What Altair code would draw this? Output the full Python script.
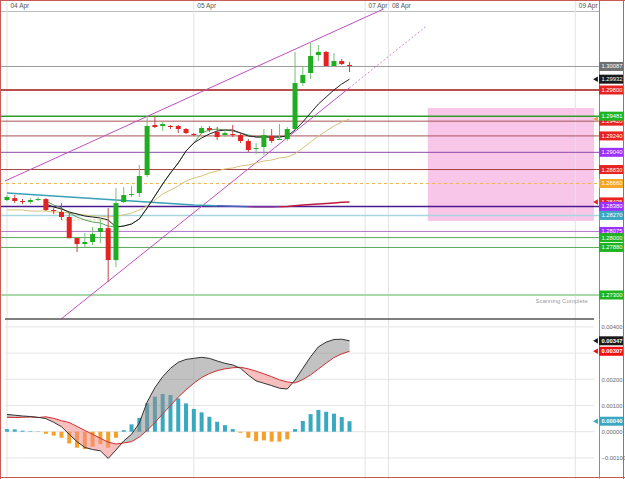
import altair as alt
import pandas as pd

# ---------------- data ----------------
OPEN = [1.28458, 1.28482, 1.28446, 1.28434, 1.28458, 1.28470, 1.28336, 1.28312, 1.28251, 1.27994,
        1.27921, 1.27946, 1.28068, 1.28116, 1.27726, 1.28434, 1.28519, 1.28543, 1.28763, 1.29373,
        1.29361, 1.29361, 1.29361, 1.29324, 1.29263, 1.29275, 1.29336, 1.29288, 1.29251, 1.29263,
        1.29251, 1.29178, 1.29080, 1.29105, 1.29239, 1.29190, 1.29202, 1.29324, 1.29885, 1.30007,
        1.30227, 1.30264, 1.30093, 1.30154, 1.30105]
HIGH = [1.28519, 1.28519, 1.28470, 1.28482, 1.28495, 1.28482, 1.28360, 1.28421, 1.28299, 1.27994,
        1.28055, 1.28129, 1.28226, 1.28360, 1.28604, 1.28617, 1.28629, 1.28885, 1.29483, 1.29483,
        1.29410, 1.29373, 1.29373, 1.29336, 1.29275, 1.29361, 1.29361, 1.29349, 1.29312, 1.29373,
        1.29275, 1.29202, 1.29153, 1.29324, 1.29324, 1.29385, 1.29349, 1.30264, 1.30081, 1.30373,
        1.30349, 1.30276, 1.30251, 1.30178, 1.30142]
LOW = [1.28446, 1.28421, 1.28409, 1.28409, 1.28446, 1.28324, 1.28287, 1.28214, 1.27990, 1.27824,
       1.27885, 1.27909, 1.27933, 1.27458, 1.27641, 1.28421, 1.28495, 1.28495, 1.28739, 1.29336,
       1.29300, 1.29324, 1.29275, 1.29263, 1.29239, 1.29263, 1.29288, 1.29190, 1.29227, 1.29227,
       1.29153, 1.29044, 1.29019, 1.29007, 1.29153, 1.29190, 1.29178, 1.29312, 1.29849, 1.29934,
       1.30154, 1.30093, 1.30093, 1.30105, 1.30020]
CLOSE = [1.28495, 1.28446, 1.28434, 1.28458, 1.28470, 1.28336, 1.28324, 1.28251, 1.27994, 1.27921,
         1.27946, 1.28043, 1.28116, 1.27726, 1.28421, 1.28519, 1.28531, 1.28751, 1.29361, 1.29349,
         1.29385, 1.29349, 1.29324, 1.29275, 1.29251, 1.29336, 1.29312, 1.29227, 1.29275, 1.29251,
         1.29178, 1.29068, 1.29092, 1.29251, 1.29178, 1.29202, 1.29324, 1.29885, 1.29983, 1.30215,
         1.30264, 1.30093, 1.30154, 1.30117, 1.30093]

MA_FAST = [None] * 5 + [
    1.28410, 1.28373, 1.28349, 1.28312, 1.28288, 1.28263, 1.28251, 1.28239, 1.28215, 1.28129,
    1.28141, 1.28166, 1.28227, 1.28361, 1.28507, 1.28654, 1.28788, 1.28910, 1.29056, 1.29154,
    1.29215, 1.29263, 1.29300, 1.29312, 1.29312, 1.29276, 1.29239, 1.29227, 1.29227, 1.29227,
    1.29227, 1.29239, 1.29312, 1.29410, 1.29520, 1.29629, 1.29715, 1.29800, 1.29873, 1.29932]
MA_GREEN = [None] * 5 + [
    1.28446, 1.28398, 1.28361, 1.28300, 1.28251, 1.28215, 1.28190, 1.28178, 1.28141,
    1.28129, 1.28141, 1.28166, 1.28227, 1.28361, 1.28507, 1.28654, 1.28788, 1.28910, 1.29056, 1.29154,
    1.29276, 1.29312, 1.29324, 1.29312, 1.29300, 1.29276, 1.29251, 1.29227, 1.29227, 1.29227,
    1.29227, 1.29239] + [None] * 8
MA_TAN = [1.28337, 1.28337, 1.28337, 1.28324, 1.28324, 1.28324, 1.28312, 1.28312, 1.28300, 1.28288,
          1.28276, 1.28263, 1.28263, 1.28251, 1.28263, 1.28276, 1.28300, 1.28337, 1.28385, 1.28459,
          1.28532, 1.28580, 1.28629, 1.28690, 1.28727, 1.28751, 1.28788, 1.28812, 1.28837, 1.28849,
          1.28873, 1.28885, 1.28910, 1.28934, 1.28946, 1.28971, 1.28983, 1.29020, 1.29093, 1.29166,
          1.29239, 1.29300, 1.29361, 1.29410, 1.29446]
MA_LONG = [1.28544, 1.28538, 1.28532, 1.28526, 1.28520, 1.28514, 1.28507, 1.28501, 1.28495, 1.28489,
           1.28483, 1.28477, 1.28471, 1.28465, 1.28459, 1.28452, 1.28446, 1.28440, 1.28434, 1.28428,
           1.28422, 1.28416, 1.28410, 1.28404, 1.28398, 1.28395, 1.28392, 1.28389, 1.28385, 1.28382,
           1.28379, 1.28376, 1.28373, 1.28373, 1.28373, 1.28376, 1.28379, 1.28388, 1.28398, 1.28404,
           1.28410, 1.28416, 1.28422, 1.28430, 1.28435]

MACD = [0.00066, 0.00063, 0.00060, 0.00058, 0.00055, 0.00050, 0.00036, 0.00019, -0.00010, -0.00038,
        -0.00060, -0.00068, -0.00073, -0.00102, -0.00070, -0.00035, -0.00010, 0.00033, 0.00113, 0.00168,
        0.00210, 0.00242, 0.00265, 0.00276, 0.00280, 0.00284, 0.00280, 0.00270, 0.00261, 0.00255,
        0.00242, 0.00216, 0.00194, 0.00185, 0.00176, 0.00166, 0.00163, 0.00197, 0.00242, 0.00286,
        0.00324, 0.00342, 0.00352, 0.00353, 0.00347]
SIGNAL = [0.00055, 0.00054, 0.00055, 0.00056, 0.00054, 0.00057, 0.00051, 0.00042, 0.00035, 0.00020,
          0.00005, -0.00010, -0.00025, -0.00040, -0.00047, -0.00043, -0.00038, -0.00020, 0.00005, 0.00035,
          0.00068, 0.00100, 0.00132, 0.00160, 0.00185, 0.00207, 0.00222, 0.00233, 0.00240, 0.00244,
          0.00246, 0.00240, 0.00231, 0.00221, 0.00210, 0.00198, 0.00190, 0.00186, 0.00199, 0.00217,
          0.00239, 0.00262, 0.00283, 0.00297, 0.00307]
HIST = [0.00010, 0.00009, 0.00004, 0.00002, 0.00001, -0.00008, -0.00015, -0.00023, -0.00045, -0.00061,
        -0.00066, -0.00057, -0.00047, -0.00061, -0.00023, 0.00006, 0.00028, 0.00053, 0.00108, 0.00134,
        0.00144, 0.00140, 0.00127, 0.00108, 0.00087, 0.00074, 0.00057, 0.00038, 0.00025, 0.00010,
        -0.00004, -0.00023, -0.00036, -0.00033, -0.00038, -0.00038, -0.00029, 0.00010, 0.00041, 0.00067,
        0.00083, 0.00076, 0.00069, 0.00056, 0.00040]

LEVELS = [1.30087, 1.29800, 1.29481, 1.29420, 1.29240, 1.29040, 1.28830,
          1.28380, 1.28270, 1.28075, 1.28000, 1.27880, 1.27300]
DASHED_LEVEL = [1.28660]

TAGS_HIDDEN = [1.29420, 1.28435, 1.28075]
TAGS = [1.29481, 1.30087, 1.29932, 1.29800, 1.29240, 1.29040, 1.28830, 1.28660,
        1.28380, 1.28270, 1.28000, 1.27880, 1.27300]
ARROWS = [1.29446, 1.29932, 1.28435]
MACD_TAGS = [0.00347, 0.00307, 0.00040]
MACD_GRID = [-0.001, 0.0, 0.001, 0.002, 0.003, 0.004]
MACD_TICK_LABELS = [-0.001, 0.0, 0.001, 0.002, 0.004]   # 0.00300 sits under the value tags

DAY_POS = [0, 24, 46, 49, 73]
DAY_LABELS = ["04 Apr", "05 Apr", "07 Apr", "08 Apr", "09 Apr"]

ZONE_X = [54.05, 75.4]
ZONE_Y = [1.28202, 1.29580]
CH_UPPER_X, CH_UPPER_Y = [-0.25, 48.37], [1.28690, 1.30788]
CH_LOWER_X, CH_LOWER_Y = [6.95, 43.95], [1.27007, 1.29824]
CH_EXT_X, CH_EXT_Y = [43.95, 53.8], [1.29824, 1.30574]
TAN_DOT_X, TAN_DOT_Y = [7, 13], [1.28215]
NOTE = "Scanning Complete"
NOTE_X, NOTE_Y = 74.6, 1.27227

# ---------------- styles / geometry ----------------
FONT = "Liberation Sans"
FRAME = "#c95a55"
LEVEL_COLORS = ["#9a9a9a", "#a31515", "#2a9d2a", "#a85454", "#a85454", "#8d4aa8", "#a54040",
                "#4a1a90", "#a6d6e0", "#b478cc", "#5aa85a", "#5aa85a", "#a9d9a9"]
LEVEL_WIDTHS = [1, 1.5, 1.5, 1, 1, 1, 1, 1.6, 1.6, 1, 1, 1, 2]
TAG_HIDDEN_COLORS = ["#e8231f", "#e8231f", "#9b30ff"]
TAG_COLORS = ["#1fb31f", "#707070", "#1a1a1a", "#e8231f", "#e8231f", "#9b30ff", "#e8231f",
              "#f5a623", "#9b30ff", "#3aa8c1", "#1fb31f", "#1fb31f", "#1fb31f"]
ARROW_COLORS = ["#e0a040", "#1a1a1a", "#e8231f"]
MACD_TAG_COLORS = ["#1a1a1a", "#f01010", "#3aa8c1"]
LONG_SEGS = [(0, 27, "#3aa0b8"), (27, 31, "#4a60c0"), (31, 35, "#8a3aa0"), (35, 44, "#c01a3c")]
RECT_PATH = "M-1,-0.36L1,-0.36L1,0.36L-1,0.36Z"
TAG_FONT = 5.8

TOTAL_W, TOTAL_H = 625, 479
PLOT_W = 599          # price/indicator area, price column after it
SPLIT = 319           # border between price panel and MACD panel
XDOM = [-0.2526, 75.4]
PDOM = [1.270073, 1.308976]
MDOM = [-0.001767, 0.004302]
N = len(OPEN)
IDX = list(range(N))

day_expr = " : ".join(f"datum.value == {p} ? '{l}'" for p, l in zip(DAY_POS, DAY_LABELS)) + " : ''"

xaxis = alt.Axis(orient="top", offset=-11, values=DAY_POS, labelExpr=day_expr, grid=False,
                 ticks=False, domainColor="#bdbdbd", labelColor="#555555", labelFont=FONT,
                 labelFontSize=6.5, labelAlign="left", labelBaseline="bottom", labelOffset=3,
                 labelPadding=3, labelFlush=False, labelOverlap=False, title=None)
price_axis = alt.Axis(orient="right", offset=PLOT_W - TOTAL_W, labels=False, ticks=False, grid=False,
                      domainColor="#8c8c8c", title=None)
macd_axis = alt.Axis(orient="right", offset=PLOT_W - TOTAL_W, values=MACD_TICK_LABELS, format=".5f",
                     grid=False, ticks=False, labelFont=FONT, labelFontSize=5.8,
                     labelColor="#666666", labelPadding=2, labelAlign="left", domainColor="#8c8c8c",
                     labelFlush=False, labelOverlap=False, title=None)

xscale = alt.Scale(domain=XDOM, range=[0, PLOT_W], nice=False, zero=False)
pscale = alt.Scale(domain=PDOM, range=[SPLIT, 0], nice=False, zero=False)
mscale = alt.Scale(domain=MDOM, range=[TOTAL_H - 1, SPLIT], nice=False, zero=False)


def mx(f):
    return alt.X(f, type="quantitative", scale=xscale, axis=xaxis)


def my(f, axis=None):
    return alt.Y(f, type="quantitative", scale=pscale, axis=axis)


def ky(f, axis=None):
    return alt.Y(f, type="quantitative", scale=mscale, axis=axis)


# ---------------- tables ----------------
cdf = pd.DataFrame({"i": IDX, "o": OPEN, "h": HIGH, "l": LOW, "c": CLOSE})
up = [c >= o for o, c in zip(OPEN, CLOSE)]
cdf["body"] = ["#1fae1f" if u else "#e32222" for u in up]
cdf["wick"] = ["#74c274" if u else "#c04848" for u in up]

zone = pd.DataFrame({"x1": [ZONE_X[0]], "x2": [ZONE_X[1]], "y1": [ZONE_Y[0]], "y2": [ZONE_Y[1]]})
days = pd.DataFrame({"d": DAY_POS})
lv = pd.DataFrame({"p": LEVELS, "col": LEVEL_COLORS, "w": LEVEL_WIDTHS})
dl = pd.DataFrame({"p": DASHED_LEVEL})
ch = pd.DataFrame({"i": CH_UPPER_X + CH_LOWER_X, "p": CH_UPPER_Y + CH_LOWER_Y,
                   "g": ["u", "u", "l", "l"]})
chx = pd.DataFrame({"i": CH_EXT_X, "p": CH_EXT_Y})
tand = pd.DataFrame({"x1": [TAN_DOT_X[0]], "x2": [TAN_DOT_X[1]], "p": TAN_DOT_Y})
sep = pd.DataFrame({"x1": [XDOM[0]], "x2": [XDOM[1]], "p": [PDOM[0]]})
mgrid = pd.DataFrame({"v": MACD_GRID, "x1": XDOM[0], "x2": XDOM[1]})


def series(vals):
    return pd.DataFrame([(i, v) for i, v in zip(IDX, vals) if v is not None], columns=["i", "p"])


long_rows = []
for s, (a, b, col) in enumerate(LONG_SEGS):
    for i in range(a, b + 1):
        long_rows.append((i, MA_LONG[i], s, col))
longdf = pd.DataFrame(long_rows, columns=["i", "p", "seg", "col"])

th = pd.DataFrame({"p": TAGS_HIDDEN, "col": TAG_HIDDEN_COLORS, "t": [f"{v:.5f}" for v in TAGS_HIDDEN]})
tv = pd.DataFrame({"p": TAGS, "col": TAG_COLORS, "t": [f"{v:.5f}" for v in TAGS]})
ar = pd.DataFrame({"p": ARROWS, "col": ARROW_COLORS})
note = pd.DataFrame({"i": [NOTE_X], "p": [NOTE_Y], "t": [NOTE]})

hdf = pd.DataFrame({"i": IDX, "h": HIST})
hdf["col"] = ["#3aa8c1" if v >= 0 else "#f5a02a" for v in HIST]

rows = []
seg = 0
d = [m - s for m, s in zip(MACD, SIGNAL)]
cur = "above" if d[0] >= 0 else "below"
rows.append((0, MACD[0], SIGNAL[0], seg, cur))
for k in range(1, N):
    kk = "above" if d[k] >= 0 else "below"
    if kk != cur:
        t = d[k - 1] / (d[k - 1] - d[k])
        xm = k - 1 + t
        ym = MACD[k - 1] + t * (MACD[k] - MACD[k - 1])
        rows.append((xm, ym, ym, seg, cur))
        seg += 1
        cur = kk
        rows.append((xm, ym, ym, seg, cur))
    rows.append((k, MACD[k], SIGNAL[k], seg, cur))
fdf = pd.DataFrame(rows, columns=["i", "m", "s", "seg", "kind"])
ldf = pd.DataFrame({"i": IDX, "m": MACD, "s": SIGNAL})
mt = pd.DataFrame({"p": MACD_TAGS, "col": MACD_TAG_COLORS, "t": [f"{v:.5f}" for v in MACD_TAGS]})

# ---------------- layers ----------------
layers = [
    # price panel
    alt.Chart(zone).mark_rect(color="#f8c6e9").encode(x=mx("x1"), x2="x2", y=my("y1", price_axis), y2="y2"),
    alt.Chart(days).mark_rule(color="#e3e3e3", strokeWidth=1).encode(x=mx("d")),
    alt.Chart(lv).mark_rule().encode(x=alt.value(0), x2=alt.value(PLOT_W),
                                     y=my("p"), color=alt.Color("col:N", scale=None),
                                     strokeWidth=alt.StrokeWidth("w:Q", scale=None)),
    alt.Chart(dl).mark_rule(color="#f0b44a", strokeDash=[3, 3], strokeWidth=1).encode(
        x=alt.value(0), x2=alt.value(PLOT_W), y=my("p")),
    alt.Chart(tand).mark_rule(color="#dcc77a", strokeDash=[2, 2], strokeWidth=1).encode(
        x=mx("x1"), x2="x2", y=my("p")),
    alt.Chart(ch).mark_line(color="#c04fc0", strokeWidth=1).encode(x=mx("i"), y=my("p"), detail="g:N"),
    alt.Chart(chx).mark_line(color="#d08ad0", strokeWidth=1, strokeDash=[2, 2]).encode(x=mx("i"), y=my("p")),
    alt.Chart(series(MA_TAN)).mark_line(color="#d9c27a", strokeWidth=1).encode(x=mx("i"), y=my("p")),
    alt.Chart(longdf).mark_line(strokeWidth=1.5).encode(x=mx("i"), y=my("p"), detail="seg:N",
                                                        color=alt.Color("col:N", scale=None)),
    alt.Chart(series(MA_GREEN)).mark_line(color="#5c9e5c", strokeWidth=1).encode(x=mx("i"), y=my("p")),
    alt.Chart(series(MA_FAST)).mark_line(color="#222222", strokeWidth=1).encode(x=mx("i"), y=my("p")),
    alt.Chart(cdf).mark_rule(strokeWidth=1).encode(x=mx("i"), y=my("l"), y2="h",
                                                   color=alt.Color("wick:N", scale=None)),
    alt.Chart(cdf).mark_bar(size=5).encode(x=mx("i"), y=my("o"), y2="c",
                                           color=alt.Color("body:N", scale=None)),
    alt.Chart(note).mark_text(align="right", baseline="middle", font=FONT, fontSize=6,
                              color="#a0a0a0").encode(x=mx("i"), y=my("p"), text="t:N"),
    # MACD panel
    alt.Chart(mgrid).mark_rule(color="#e4e4e4", strokeWidth=1).encode(
        x=mx("x1"), x2="x2", y=ky("v", macd_axis)),
    alt.Chart(hdf).mark_bar(size=4).encode(x=mx("i"), y=ky("h"), y2=alt.datum(0),
                                           color=alt.Color("col:N", scale=None)),
    alt.Chart(fdf).mark_area(opacity=0.55).encode(
        x=mx("i"), y=ky("m"), y2="s", detail="seg:N",
        color=alt.Color("kind:N", scale=alt.Scale(domain=["above", "below"],
                                                  range=["#8f8f8f", "#f28b8b"]), legend=None)),
    alt.Chart(ldf).mark_line(color="#d12f2f", strokeWidth=1).encode(x=mx("i"), y=ky("s")),
    alt.Chart(ldf).mark_line(color="#333333", strokeWidth=1).encode(x=mx("i"), y=ky("m")),
    alt.Chart(sep).mark_rule(color="#555555", strokeWidth=1.5).encode(x=mx("x1"), x2="x2", y=my("p")),
    # price tags on the right
    alt.Chart(ar).mark_point(shape="triangle-left", size=30, filled=True, opacity=1).encode(
        x=alt.value(595.5), y=my("p"), color=alt.Color("col:N", scale=None)),
    alt.Chart(th).mark_point(shape=RECT_PATH, size=625, filled=True, opacity=1, strokeWidth=0).encode(
        x=alt.value(611.5), y=my("p"), color=alt.Color("col:N", scale=None)),
    alt.Chart(th).mark_text(align="left", baseline="middle", font=FONT, fontSize=TAG_FONT,
                            color="white").encode(x=alt.value(601.5), y=my("p"), text="t:N"),
    alt.Chart(tv).mark_point(shape=RECT_PATH, size=625, filled=True, opacity=1, strokeWidth=0).encode(
        x=alt.value(611.5), y=my("p"), color=alt.Color("col:N", scale=None)),
    alt.Chart(tv).mark_text(align="left", baseline="middle", font=FONT, fontSize=TAG_FONT,
                            color="white").encode(x=alt.value(601.5), y=my("p"), text="t:N"),
    alt.Chart(mt).mark_point(shape="triangle-left", size=30, filled=True, opacity=1).encode(
        x=alt.value(595.5), y=ky("p"), color=alt.Color("col:N", scale=None)),
    alt.Chart(mt).mark_point(shape=RECT_PATH, size=625, filled=True, opacity=1, strokeWidth=0).encode(
        x=alt.value(611.5), y=ky("p"), color=alt.Color("col:N", scale=None)),
    alt.Chart(mt).mark_text(align="left", baseline="middle", font=FONT, fontSize=TAG_FONT, color="white",
                            fontWeight="bold").encode(x=alt.value(601.5), y=ky("p"), text="t:N"),
    # outer frame
    alt.Chart(days).mark_rule(color=FRAME, strokeWidth=1).encode(
        x=alt.value(0), x2=alt.value(TOTAL_W), y=alt.value(0.5)),
    alt.Chart(days).mark_rule(color=FRAME, strokeWidth=1).encode(
        x=alt.value(0), x2=alt.value(TOTAL_W), y=alt.value(TOTAL_H - 1.5)),
    alt.Chart(days).mark_rule(color=FRAME, strokeWidth=1).encode(
        x=alt.value(0.5), y=alt.value(0), y2=alt.value(TOTAL_H)),
    alt.Chart(days).mark_rule(color=FRAME, strokeWidth=1).encode(
        x=alt.value(TOTAL_W - 1.5), y=alt.value(0), y2=alt.value(TOTAL_H)),
]

chart = alt.layer(*layers).resolve_scale(y="independent").properties(
    width=TOTAL_W, height=TOTAL_H, padding=0, background="white",
    autosize=alt.AutoSizeParams(type="none")
).configure_view(strokeWidth=0).configure(font=FONT)

chart.save("out.html", embed_options={"renderer": "svg", "actions": False})
